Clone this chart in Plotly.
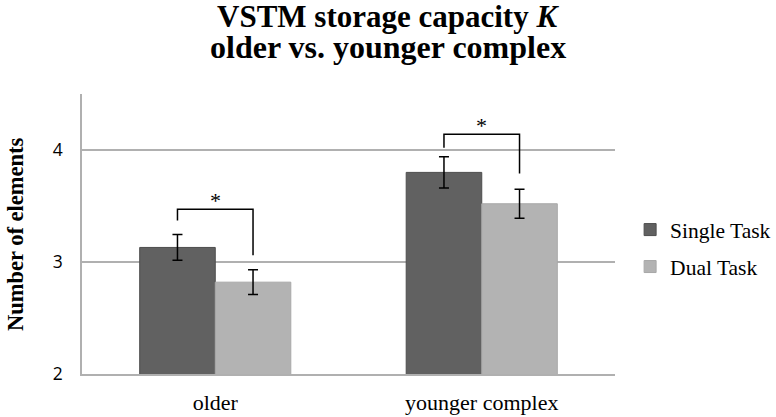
import plotly.graph_objects as go

categories = ["older", "younger complex"]
series_names = ["Single Task", "Dual Task"]
single_values = [3.13, 3.80]
single_err = [0.115, 0.14]
dual_values = [2.82, 3.52]
dual_err = [0.11, 0.13]
# significance brackets (y values of legs and top bar)
bracket_left_bottom = [3.37, 4.02]
bracket_right_bottom = [3.06, 3.79]
bracket_top = [3.47, 4.14]
star_y = [3.55, 4.22]
y_ticks = [2, 3, 4]
title_lines = ["<b>VSTM storage capacity <i>K</i></b>", "<b>older vs. younger complex</b>"]

dark = "#616161"
light = "#b3b3b3"
serif = "Liberation Serif"

fig = go.Figure()
fig.add_trace(go.Bar(
    name=series_names[0], x=categories, y=single_values, legendgroup="a",
    marker=dict(color=dark, line=dict(color="#4d4d4d", width=1)),
    error_y=dict(type="data", array=single_err, color="black", thickness=1.5, width=5),
))
fig.add_trace(go.Bar(
    name=series_names[1], x=categories, y=dual_values, legendgroup="b",
    marker=dict(color=light, line=dict(color="#a8a8a8", width=1)),
    error_y=dict(type="data", array=dual_err, color="black", thickness=1.5, width=5),
))

bargap = 0.433
half = (1 - bargap) / 4
shapes = []
annotations = []
for i in range(len(categories)):
    xl, xr = i - half, i + half
    shapes.append(dict(
        type="path", xref="x", yref="y",
        path=f"M {xl},{bracket_left_bottom[i]} L {xl},{bracket_top[i]} L {xr},{bracket_top[i]} L {xr},{bracket_right_bottom[i]}",
        line=dict(color="black", width=1.5),
    ))
    annotations.append(dict(
        x=i, y=star_y[i], xref="x", yref="y", text="*", showarrow=False,
        font=dict(family=serif, size=22, color="black"), yanchor="middle",
    ))

annotations.append(dict(
    x=0, y=0.5, xref="paper", yref="paper", text="<b>Number of elements</b>",
    textangle=-90, showarrow=False, xanchor="center", yanchor="middle", xshift=-67,
    font=dict(family=serif, size=22.5, color="black"),
))
for line, shift, size in zip(title_lines, [78, 47], [31, 32]):
    annotations.append(dict(
        x=0.574, y=1, xref="paper", yref="paper", text=line, showarrow=False,
        xanchor="center", yanchor="middle", yshift=shift,
        font=dict(family=serif, size=size, color="black"),
    ))

fig.update_layout(
    width=776, height=417,
    margin=dict(l=82, r=161, t=94, b=43, autoexpand=False),
    paper_bgcolor="white", plot_bgcolor="white",
    barmode="group", bargap=bargap, bargroupgap=0,
    xaxis=dict(
        showline=True, linecolor="#b0b0b0", linewidth=1.5, ticks="",
        tickfont=dict(family=serif, size=22, color="black"),
        ticklabelstandoff=8,
    ),
    yaxis=dict(
        range=[2, 4.5], tickvals=y_ticks, showgrid=True, gridcolor="#b0b0b0", gridwidth=1.5,
        showline=True, linecolor="#b0b0b0", linewidth=1.5, zeroline=False,
        tickfont=dict(family="Open Sans", size=17.5, color="black"),
        ticklabelstandoff=14,
    ),
    legend=dict(
        xref="container", yref="container",
        x=0.812, y=0.405, xanchor="left", yanchor="middle",
        font=dict(family=serif, size=21.5, color="black"),
        traceorder="grouped", tracegroupgap=6, itemwidth=30,
    ),
    shapes=shapes, annotations=annotations,
)

fig.write_html(
    "out.html",
    config={"displayModeBar": False},
    post_script="document.body.style.margin='0';document.body.style.overflow='hidden';",
)
